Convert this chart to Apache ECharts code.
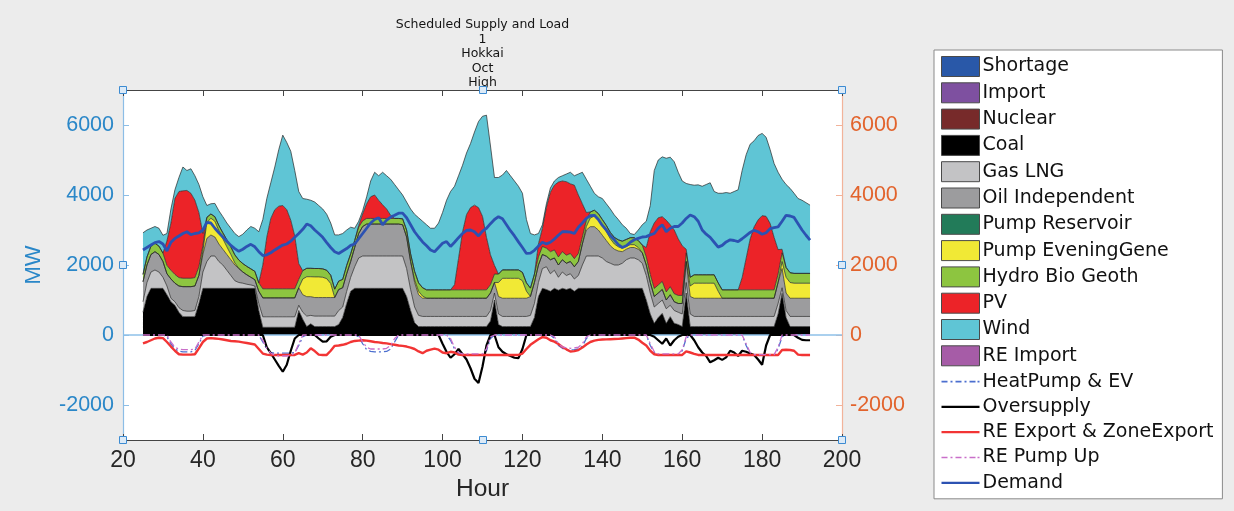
<!DOCTYPE html>
<html>
<head>
<meta charset="utf-8">
<script src="https://cdn.jsdelivr.net/npm/echarts@6/dist/echarts.min.js"></script>
<style>
  html, body { margin: 0; padding: 0; background: #ececec; }
  #chart { width: 1234px; height: 511px; }
</style>
</head>
<body>
<div id="chart"></div>
<script>
// Hourly schedule, hours 25..192 (one value per hour), MW
const FIRST_HOUR = 25;

const coal = [
  650, 1100, 1333, 1333, 1333, 1333, 1150, 950, 850, 650,
  524, 524, 524, 524, 900, 1333, 1333, 1333, 1333, 1333,
  1333, 1333, 1333, 1333, 1333, 1333, 1333, 1333, 1333, 700,
  220, 220, 220, 220, 220, 220, 220, 220, 220, 700,
  450, 240, 320, 240, 240, 240, 240, 240, 240, 300,
  500, 900, 1250, 1333, 1333, 1333, 1333, 1333, 1333, 1333,
  1333, 1333, 1333, 1333, 1333, 1333, 1100, 700, 350, 240,
  240, 240, 240, 240, 240, 240, 240, 240, 240, 240,
  240, 240, 240, 240, 240, 240, 240, 400, 1000, 300,
  240, 240, 240, 240, 240, 240, 240, 240, 500, 1100,
  1333, 1300, 1250, 1333, 1280, 1333, 1300, 1333, 1250, 1333,
  1333, 1333, 1333, 1333, 1333, 1333, 1333, 1333, 1333, 1333,
  1333, 1333, 1333, 1333, 1333, 1333, 1000, 600, 333, 500,
  619, 333, 524, 333, 300, 240, 1200, 240, 240, 240,
  240, 240, 240, 240, 240, 240, 240, 240, 240, 240,
  240, 240, 240, 240, 240, 240, 240, 240, 240, 600,
  1190, 500, 240, 240, 240, 240, 240, 240
];

const gasLng = [
  300, 400, 467, 524, 467, 317, 250, 100, 100, 130,
  176, 156, 156, 176, 200, 467, 767, 924, 924, 767,
  667, 517, 367, 217, 167, 147, 117, 97, 67, 200,
  300, 300, 300, 300, 300, 300, 300, 300, 300, 150,
  200, 300, 240, 300, 300, 300, 300, 300, 300, 400,
  300, 350, 400, 617, 867, 924, 924, 924, 924, 924,
  924, 924, 924, 924, 924, 924, 800, 600, 450, 320,
  290, 290, 290, 290, 290, 290, 290, 290, 290, 290,
  290, 290, 290, 290, 290, 290, 290, 300, 200, 300,
  290, 290, 290, 290, 290, 290, 290, 320, 400, 400,
  567, 650, 500, 517, 370, 467, 400, 417, 350, 367,
  667, 924, 924, 924, 924, 867, 767, 717, 667, 667,
  717, 817, 867, 867, 817, 717, 700, 600, 467, 400,
  381, 417, 326, 367, 350, 360, 300, 360, 290, 290,
  290, 290, 290, 290, 290, 290, 290, 290, 290, 290,
  290, 290, 290, 290, 290, 290, 290, 290, 290, 300,
  160, 200, 290, 290, 290, 290, 290, 290
];

const oilIndependent = [
  570, 500, 500, 523, 500, 450, 350, 550, 530, 620,
  681, 701, 701, 700, 600, 500, 662, 600, 543, 500,
  450, 450, 450, 450, 400, 320, 270, 220, 180, 350,
  540, 540, 540, 540, 540, 540, 540, 540, 540, 500,
  500, 555, 535, 530, 530, 530, 530, 530, 530, 600,
  550, 500, 450, 550, 700, 843, 913, 913, 913, 913,
  913, 913, 913, 913, 913, 893, 900, 800, 700, 590,
  520, 520, 520, 520, 520, 520, 520, 520, 520, 520,
  520, 520, 520, 520, 520, 520, 520, 500, 300, 500,
  520, 520, 520, 520, 520, 520, 520, 540, 600, 500,
  400, 300, 400, 350, 350, 350, 350, 350, 350, 400,
  600, 743, 838, 838, 743, 650, 600, 500, 450, 400,
  330, 300, 300, 300, 300, 300, 300, 300, 300, 300,
  300, 250, 300, 250, 250, 300, 600, 500, 520, 520,
  520, 520, 520, 520, 520, 520, 520, 520, 520, 520,
  520, 520, 520, 520, 520, 520, 520, 520, 520, 600,
  550, 500, 520, 520, 520, 520, 520, 520
];

const pumpEveningGene = [
  0, 0, 0, 0, 0, 0, 0, 0, 0, 0,
  0, 0, 0, 0, 0, 100, 450, 480, 450, 380,
  300, 220, 150, 60, 0, 0, 0, 0, 0, 0,
  0, 0, 0, 0, 0, 0, 0, 0, 0, 0,
  450, 570, 570, 590, 590, 580, 540, 400, 0, 0,
  0, 0, 0, 0, 0, 0, 0, 0, 0, 0,
  0, 0, 0, 0, 0, 0, 0, 0, 80, 100,
  60, 0, 0, 0, 0, 0, 0, 0, 0, 0,
  0, 0, 0, 0, 0, 0, 0, 0, 0, 400,
  570, 570, 570, 570, 570, 500, 200, 0, 0, 0,
  0, 0, 0, 0, 0, 0, 0, 0, 0, 0,
  0, 100, 250, 300, 300, 280, 250, 200, 150, 120,
  100, 80, 80, 80, 50, 0, 0, 0, 0, 0,
  0, 0, 0, 0, 0, 0, 0, 300, 430, 430,
  430, 430, 430, 430, 200, 0, 0, 0, 0, 0,
  0, 0, 0, 0, 0, 0, 0, 0, 0, 0,
  200, 450, 450, 430, 430, 430, 430, 430
];

const hydroBioGeoth = [
  210, 230, 240, 240, 240, 240, 240, 250, 250, 240,
  240, 240, 240, 240, 250, 150, 150, 120, 130, 150,
  170, 200, 220, 230, 240, 240, 240, 240, 240, 240,
  260, 260, 260, 260, 260, 260, 260, 260, 260, 240,
  240, 240, 240, 240, 240, 240, 240, 240, 240, 240,
  240, 240, 220, 200, 180, 160, 160, 160, 160, 160,
  160, 160, 160, 160, 160, 170, 200, 220, 240, 240,
  240, 240, 240, 240, 240, 240, 240, 240, 240, 240,
  240, 240, 240, 240, 240, 240, 240, 240, 240, 240,
  240, 240, 240, 240, 240, 240, 240, 240, 240, 230,
  230, 230, 230, 230, 230, 230, 230, 230, 230, 230,
  200, 180, 170, 170, 170, 170, 180, 180, 190, 200,
  200, 200, 200, 200, 200, 220, 230, 230, 230, 230,
  230, 230, 230, 230, 230, 230, 250, 250, 240, 240,
  240, 240, 240, 240, 240, 240, 240, 240, 240, 240,
  240, 240, 240, 240, 240, 240, 240, 240, 240, 240,
  250, 280, 280, 280, 280, 280, 280, 280
];

const pv = [
  0, 0, 0, 0, 0, 0, 700, 1350, 2170, 2460,
  2499, 2509, 2429, 2210, 1550, 350, 0, 0, 0, 0,
  0, 0, 0, 0, 0, 0, 0, 0, 0, 0,
  680, 1480, 2010, 2260, 2360, 2380, 2260, 1960, 1510, 450,
  0, 0, 0, 0, 0, 0, 0, 0, 0, 0,
  0, 0, 0, 0, 50, 200, 420, 620, 670, 520,
  390, 270, 90, 0, 0, 0, 0, 0, 0, 0,
  0, 0, 0, 0, 0, 0, 0, 0, 150, 900,
  1650, 2150, 2350, 2420, 2350, 2100, 1500, 850, 250, 0,
  0, 0, 0, 0, 0, 0, 0, 0, 0, 370,
  520, 1170, 1700, 1850, 2140, 2020, 2100, 1990, 2100, 1670,
  950, 220, 0, 0, 0, 0, 0, 0, 0, 0,
  0, 0, 0, 0, 0, 0, 270, 1220, 1870, 1920,
  1850, 2050, 1770, 1820, 1620, 1420, 100, 0, 0, 0,
  0, 0, 0, 0, 0, 0, 0, 0, 0, 0,
  350, 900, 1450, 1800, 2000, 2120, 2100, 1900, 1500, 700,
  100, 0, 0, 0, 0, 0, 0, 0
];

const wind = [
  1190, 770, 510, 480, 510, 510, 210, 400, 250, 400,
  680, 570, 700, 700, 800, 1050, 338, 293, 380, 420,
  460, 480, 530, 610, 670, 840, 1040, 1210, 1230, 1460,
  1300, 1100, 1020, 1220, 1620, 2010, 1920, 1970, 1870, 2060,
  2060, 1975, 1945, 1900, 1800, 1710, 1600, 1490, 1550, 1320,
  1310, 1010, 760, 350, 120, 90, 200, 450, 650, 700,
  930, 950, 1030, 970, 820, 680, 800, 1280, 1630, 1860,
  1900, 1860, 1760, 1760, 1910, 2210, 2560, 2810, 2810, 2360,
  1910, 1760, 1830, 2090, 2460, 2860, 3490, 3110, 2510, 2760,
  2710, 2840, 2690, 2540, 2390, 2260, 1810, 1560, 1120, 300,
  100, 100, 120, 120, 130, 150, 220, 330, 270, 600,
  900, 950, 735, 485, 480, 600, 620, 670, 640, 580,
  470, 320, 120, 90, 300, 580, 750, 750, 1500, 1650,
  1710, 1770, 1930, 1950, 1900, 1850, 1880, 2650, 2560, 2570,
  2530, 2580, 2630, 2380, 2560, 2760, 2780, 2760, 2810, 2860,
  3060, 2960, 2710, 2460, 2410, 2350, 2260, 2110, 2110, 2210,
  2000, 2370, 2410, 2290, 2140, 2090, 2020, 1950
];

const heatPumpEv = [
  0, 0, 0, 0, 0, 0, -50, -250, -400, -460,
  -480, -480, -480, -440, -250, -30, 0, 0, 0, 0,
  0, 0, 0, 0, 0, 0, 0, 0, 0, 0,
  -200, -400, -500, -520, -520, -520, -520, -520, -500, -300,
  -50, 0, 0, 0, 0, 0, 0, 0, 0, 0,
  0, 0, 0, 0, -50, -250, -420, -470, -480, -480,
  -480, -470, -400, -200, 0, 0, 0, 0, 0, 0,
  0, 0, 0, 0, 0, 0, 0, -150, -400, -520,
  -560, -560, -560, -560, -560, -560, -450, -100, 0, 0,
  0, 0, 0, 0, 0, 0, 0, 0, 0, 0,
  0, 0, 0, -100, -300, -380, -420, -430, -420, -400,
  -320, -100, 0, 0, 0, 0, 0, 0, 0, 0,
  0, 0, 0, 0, 0, 0, 0, -300, -500, -560,
  -560, -560, -560, -560, -560, -450, -100, 0, 0, 0,
  0, 0, 0, 0, 0, 0, 0, 0, 0, 0,
  0, -300, -520, -570, -570, -570, -570, -570, -570, -400,
  -50, 0, 0, 0, 0, 0, 0, 0
];

const oversupply = [
  0, 0, 0, 0, 0, 0, 0, 0, 0, 0,
  0, 0, 0, 0, 0, 0, 0, 0, 0, 0,
  0, 0, 0, 0, 0, 0, 0, 0, 0, 0,
  0, -350, -520, -700, -880, -1050, -850, -450, -100, 0,
  0, 0, 0, 0, -100, -190, -180, -50, 0, 0,
  0, 0, 0, 0, 0, 0, 0, 0, 0, 0,
  0, 0, 0, 0, 0, 0, 0, 0, 0, 0,
  0, 0, 0, 0, 0, -250, -480, -650, -550, -400,
  -550, -700, -950, -1250, -1370, -900, -300, 0, 0, -350,
  -480, -550, -600, -650, -660, -400, 0, 0, 0, 0,
  0, 0, 0, 0, 0, 0, 0, 0, 0, 0,
  0, 0, 0, 0, 0, 0, 0, 0, 0, 0,
  0, 0, 0, 0, 0, 0, 0, 0, -50, -150,
  -250, -100, -300, -150, -50, 0, 0, 0, -150, -350,
  -500, -600, -780, -720, -650, -710, -640, -450, -500, -600,
  -450, -480, -530, -570, -700, -850, -300, 0, 0, 0,
  0, 0, 0, 0, -80, -140, -150, -150
];

const reExport = [
  -240, -200, -150, -100, -80, -90, -200, -330, -450, -550,
  -560, -560, -560, -550, -380, -200, -100, -90, -100, -110,
  -130, -150, -170, -180, -190, -210, -230, -250, -270, -400,
  -530, -560, -570, -570, -570, -570, -570, -570, -570, -520,
  -560, -500, -380, -460, -560, -570, -570, -450, -310, -300,
  -280, -250, -200, -170, -160, -150, -160, -180, -200, -210,
  -230, -240, -260, -280, -300, -310, -330, -360, -400, -470,
  -520, -450, -420, -390, -420, -500, -520, -480, -500, -560,
  -570, -570, -570, -570, -570, -570, -570, -570, -570, -570,
  -570, -570, -570, -570, -570, -530, -400, -280, -200, -120,
  -60, -80, -150, -190, -260, -340, -410, -470, -460, -430,
  -360, -270, -200, -160, -140, -130, -125, -120, -115, -110,
  -100, -90, -80, -75, -130, -220, -300, -450, -550, -570,
  -570, -570, -570, -570, -570, -570, -470, -500, -540, -570,
  -570, -570, -570, -570, -570, -570, -570, -570, -570, -570,
  -570, -570, -570, -570, -570, -570, -570, -570, -570, -570,
  -430, -420, -430, -450, -560, -570, -570, -570
];

const rePumpUp = [
  0, 0, 0, 0, 0, 0, 0, -200, -350, -400,
  -420, -420, -420, -400, -200, 0, 0, 0, 0, 0,
  0, 0, 0, 0, 0, 0, 0, 0, 0, 0,
  -150, -380, -520, -580, -600, -600, -600, -580, -520, -250,
  0, 0, 0, 0, 0, 0, 0, 0, 0, 0,
  0, 0, 0, 0, 0, -200, -350, -400, -400, -400,
  -400, -380, -300, -100, 0, 0, 0, 0, 0, 0,
  0, 0, 0, 0, 0, 0, 0, -100, -350, -500,
  -540, -540, -540, -540, -540, -540, -400, -50, 0, 0,
  0, 0, 0, 0, 0, 0, 0, 0, 0, 0,
  0, 0, 0, -50, -250, -340, -370, -380, -370, -350,
  -250, -50, 0, 0, 0, 0, 0, 0, 0, 0,
  0, 0, 0, 0, 0, 0, 0, -250, -480, -540,
  -540, -540, -540, -540, -540, -420, -50, 0, 0, 0,
  0, 0, 0, 0, 0, 0, 0, 0, 0, 0,
  0, -250, -500, -560, -560, -560, -560, -560, -560, -350,
  0, 0, 0, 0, 0, 0, 0, 0
];

const demand = [
  2430, 2500, 2570, 2640, 2670, 2600, 2400, 2650, 2760, 2830,
  2900, 2950, 2870, 2900, 2920, 3000, 3220, 3200, 3050, 2920,
  2800, 2680, 2560, 2470, 2390, 2450, 2530, 2590, 2520, 2380,
  2270, 2290, 2350, 2430, 2500, 2570, 2600, 2680, 2790, 2900,
  3020, 3170, 3120, 3000, 2900, 2790, 2640, 2500, 2380, 2330,
  2400, 2470, 2560, 2600, 2750, 2900, 3050, 3200, 3300, 3350,
  3150, 3280, 3370, 3420, 3480, 3480, 3350, 3150, 2950, 2800,
  2660, 2550, 2430, 2380, 2500, 2620, 2670, 2530, 2650, 2780,
  2900, 2990, 3000, 2950, 2830, 2970, 3050, 3180, 3300, 3380,
  3320, 3150, 2980, 2830, 2660, 2500, 2330, 2340, 2420, 2540,
  2650, 2600, 2650, 2740, 2850, 2950, 2950, 2940, 2900, 3080,
  3200, 3330, 3410, 3420, 3300, 3130, 3000, 2840, 2720, 2580,
  2500, 2550, 2650, 2720, 2760, 2800, 2810, 2860, 2900, 3050,
  3150, 2950, 3050, 3100, 3100, 3200, 3330, 3430, 3380, 3250,
  3000, 2880, 2790, 2650, 2510, 2560, 2660, 2720, 2700, 2670,
  2750, 2840, 2930, 2990, 2950, 2880, 2920, 3040, 3070, 3090,
  3250, 3420, 3400, 3360, 3180, 3000, 2850, 2710
];

// Axis ticks
const xTicks = { min: 20, max: 200, step: 20 };
const yRange = { min: -3000, max: 7000 };
const yTickValues = [-2000, 0, 2000, 4000, 6000];

const titleLines = ['Scheduled Supply and Load', '1', 'Hokkai', 'Oct', 'High'];

// Hour slots along the x axis (one category per hour)
const hourSlots = [];
for (let h = xTicks.min; h <= xTicks.max; h++) hourSlots.push(String(h));
const isTickSlot = idx => idx % xTicks.step === 0;

const toPairs = arr => arr.map((v, i) => [String(FIRST_HOUR + i), v]);

// Stacked supply layers (bottom to top)
const supplyLayers = [
  { name: 'Coal', data: coal, color: '#000000' },
  { name: 'Gas LNG', data: gasLng, color: '#c3c3c5' },
  { name: 'Oil Independent', data: oilIndependent, color: '#9c9c9e' },
  { name: 'Pump EveningGene', data: pumpEveningGene, color: '#f1e935' },
  { name: 'Hydro Bio Geoth', data: hydroBioGeoth, color: '#8dc540' },
  { name: 'PV', data: pv, color: '#ec2328' },
  { name: 'Wind', data: wind, color: '#5fc5d5' }
];

// Sources listed in the key without any output this week
const idleSources = [
  { name: 'Shortage', color: '#2958a8' },
  { name: 'Import', color: '#7e50a0' },
  { name: 'Nuclear', color: '#772a2a' },
  { name: 'Pump Reservoir', color: '#227b59' },
  { name: 'RE Import', color: '#a65ca7' }
];

const DASH_DOT = [7, 3, 2, 3];
const traceLines = [
  { name: 'HeatPump & EV', data: heatPumpEv, color: '#4c6fcf', width: 1.3, type: DASH_DOT },
  { name: 'Oversupply', data: oversupply, color: '#000000', width: 2.2, type: 'solid' },
  { name: 'RE Export & ZoneExport', data: reExport, color: '#f23434', width: 2.4, type: 'solid' },
  { name: 'RE Pump Up', data: rePumpUp, color: '#c96fc9', width: 1.3, type: DASH_DOT },
  { name: 'Demand', data: demand, color: '#2c52b2', width: 2.8, type: 'solid' }
];

const SOLID_ICON = 'path://M0,0h38v2.2h-38z';
const DASHDOT_ICON = 'path://M0,0h6v1.6h-6zM9,0h2v1.6h-2zM14,0h6v1.6h-6zM23,0h2v1.6h-2zM28,0h6v1.6h-6zM36,0h2v1.6h-2z';

const legendOrder = [
  'Shortage', 'Import', 'Nuclear', 'Coal', 'Gas LNG', 'Oil Independent',
  'Pump Reservoir', 'Pump EveningGene', 'Hydro Bio Geoth', 'PV', 'Wind',
  'RE Import', 'HeatPump & EV', 'Oversupply', 'RE Export & ZoneExport',
  'RE Pump Up', 'Demand'
];
const legendData = legendOrder.map(name => {
  const line = traceLines.find(t => t.name === name);
  if (!line) return { name, icon: 'rect' };
  return {
    name,
    icon: Array.isArray(line.type) ? DASHDOT_ICON : SOLID_ICON,
    itemStyle: { borderWidth: 0 }
  };
});

const series = [];
idleSources.forEach(s => series.push({
  name: s.name, type: 'line', data: [], symbol: 'none',
  itemStyle: { color: s.color }, lineStyle: { width: 0 }, areaStyle: { color: s.color, opacity: 1 }
}));
supplyLayers.forEach((s, i) => series.push({
  name: s.name, type: 'line', stack: 'supply', data: toPairs(s.data),
  symbol: 'none', showSymbol: false, z: 2,
  itemStyle: { color: s.color },
  lineStyle: { color: '#262626', width: 0.7 },
  areaStyle: { color: s.color, opacity: 1 },
  emphasis: { disabled: true },
  markLine: i === 0 ? {
    silent: true, symbol: 'none', label: { show: false },
    lineStyle: { color: '#8ec0e8', width: 1.6, type: 'solid' },
    emphasis: { disabled: true },
    data: [{ yAxis: 0 }]
  } : undefined
}));
traceLines.forEach((t, i) => series.push({
  name: t.name, type: 'line', data: toPairs(t.data),
  symbol: 'none', showSymbol: false, z: 4 + i,
  itemStyle: { color: t.color },
  lineStyle: { color: t.color, width: t.width, type: t.type },
  emphasis: { disabled: true }
}));

const AXIS_FONT = '"Liberation Sans", Arial, sans-serif';
const LEFT_BLUE = '#2a87c8';
const RIGHT_ORANGE = '#e2632c';
const plainNumber = v => String(v);

const chart = echarts.init(document.getElementById('chart'), null, { renderer: 'canvas' });
chart.setOption({
  animation: false,
  backgroundColor: '#ececec',
  grid: { left: 123, right: 392, top: 90, bottom: 71, show: true, backgroundColor: '#ffffff', borderWidth: 0 },
  legend: {
    orient: 'vertical', left: 934, top: 50,
    padding: [6, 9, 6, 7], itemGap: 5.3, itemWidth: 38, itemHeight: 20,
    backgroundColor: '#ffffff', borderColor: '#8a8a8a', borderWidth: 1,
    selectedMode: false,
    itemStyle: { borderColor: '#4a4a4a', borderWidth: 1 },
    textStyle: { fontFamily: '"DejaVu Sans", sans-serif', fontSize: 19, color: '#111', padding: [0, 0, 0, -2], lineHeight: 20 },
    data: legendData
  },
  xAxis: [
    {
      type: 'category', position: 'bottom', data: hourSlots, boundaryGap: false,
      name: 'Hour', nameLocation: 'middle', nameGap: 36,
      nameTextStyle: { fontFamily: AXIS_FONT, fontSize: 24.5, color: '#262626' },
      axisLine: { show: true, onZero: false, lineStyle: { color: '#444', width: 1 } },
      axisTick: { show: true, inside: true, length: 6, interval: isTickSlot, lineStyle: { color: '#444' } },
      axisLabel: { fontFamily: AXIS_FONT, fontSize: 23, color: '#262626', margin: 9, interval: isTickSlot },
      splitLine: { show: false }
    },
    {
      type: 'category', position: 'top', data: hourSlots, boundaryGap: false,
      axisLine: { show: true, onZero: false, lineStyle: { color: '#444', width: 1 } },
      axisTick: { show: true, inside: true, length: 6, interval: isTickSlot, lineStyle: { color: '#444' } },
      axisLabel: { show: false }, splitLine: { show: false }
    }
  ],
  yAxis: [
    {
      type: 'value', position: 'left', min: yRange.min, max: yRange.max, interval: 1000,
      name: 'MW', nameLocation: 'middle', nameGap: 78,
      nameTextStyle: { fontFamily: AXIS_FONT, fontSize: 22, color: LEFT_BLUE },
      axisLine: { show: true, onZero: false, lineStyle: { color: '#8cbde6', width: 1.2 } },
      axisTick: { show: true, inside: true, length: 6, customValues: yTickValues, lineStyle: { color: '#8cbde6' } },
      axisLabel: { fontFamily: AXIS_FONT, fontSize: 21.5, color: LEFT_BLUE, margin: 9, customValues: yTickValues, formatter: plainNumber },
      splitLine: { show: false }
    },
    {
      type: 'value', position: 'right', min: yRange.min, max: yRange.max, interval: 1000,
      axisLine: { show: true, onZero: false, lineStyle: { color: '#f2b39a', width: 1.2 } },
      axisTick: { show: true, inside: true, length: 6, customValues: yTickValues, lineStyle: { color: '#f2b39a' } },
      axisLabel: { fontFamily: AXIS_FONT, fontSize: 21.5, color: RIGHT_ORANGE, margin: 8, customValues: yTickValues, formatter: plainNumber },
      splitLine: { show: false }
    }
  ],
  series
});

// Title block and the plot-box resize handles
const toPx = (h, v) => chart.convertToPixel({ xAxisIndex: 0, yAxisIndex: 0 }, [String(h), v]);
const midX = (xTicks.min + xTicks.max) / 2;
const midY = 2000;
const handlePts = [
  [xTicks.min, yRange.max], [midX, yRange.max], [xTicks.max, yRange.max],
  [xTicks.min, midY], [xTicks.max, midY],
  [xTicks.min, yRange.min], [midX, yRange.min], [xTicks.max, yRange.min]
].map(p => toPx(p[0], p[1]));
const titleX = toPx(midX, 0)[0];

chart.setOption({
  graphic: [
    {
      type: 'text', x: titleX, y: 17.5, z: 50,
      style: {
        text: titleLines.join('\n'), align: 'center', verticalAlign: 'top',
        font: '12.5px "DejaVu Sans", sans-serif', lineHeight: 14.5, fill: '#141414'
      }
    },
    ...handlePts.map(p => ({
      type: 'rect', z: 60,
      shape: { x: Math.round(p[0]) - 3.5, y: Math.round(p[1]) - 3.5, width: 7, height: 7 },
      style: { fill: '#dceaf7', stroke: '#3c8bd2', lineWidth: 1 }
    }))
  ]
});
</script>
</body>
</html>
